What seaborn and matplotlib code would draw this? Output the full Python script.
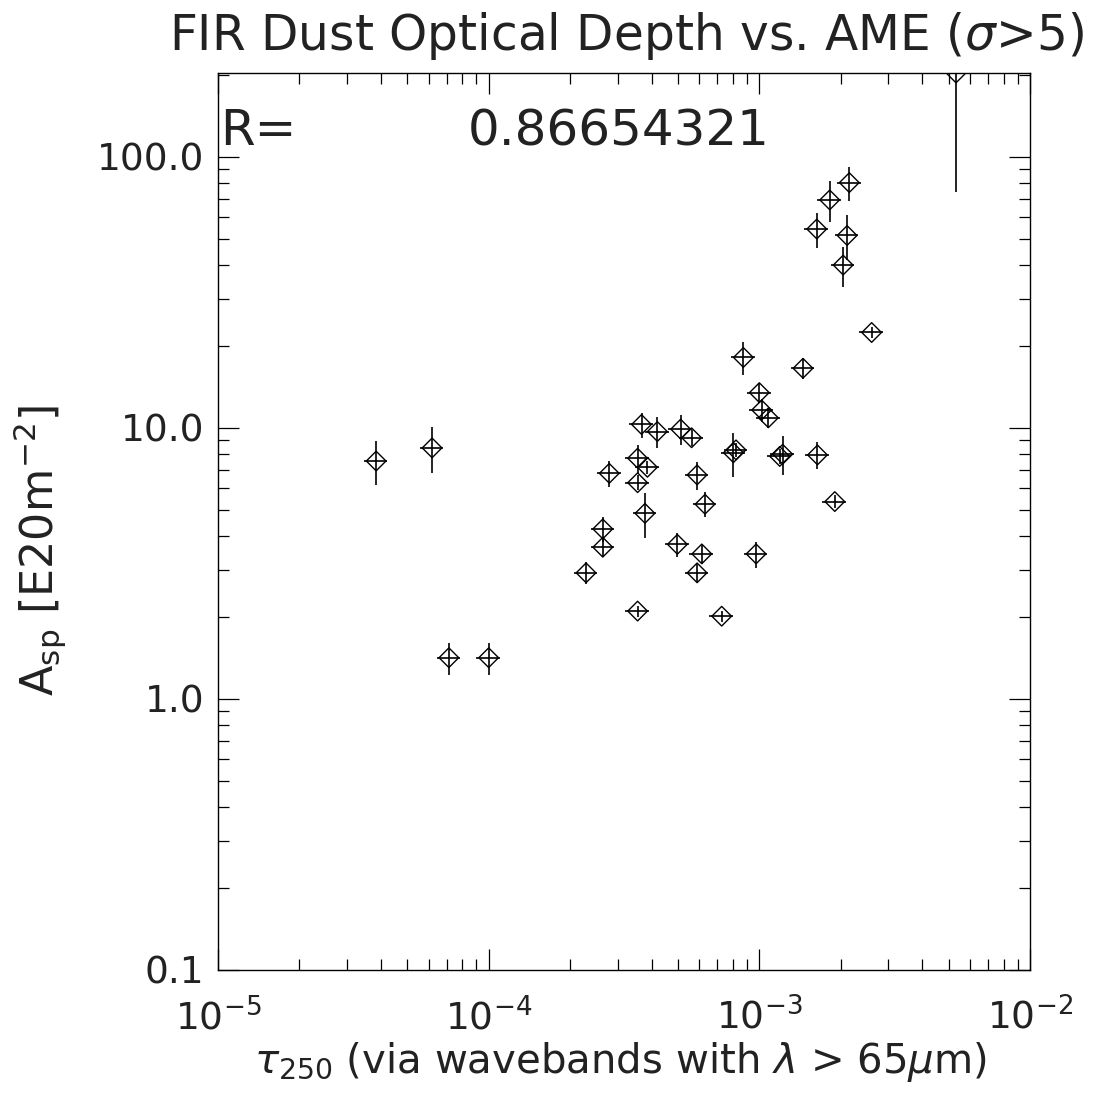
import numpy as np
import pandas as pd
import matplotlib
matplotlib.use("Agg")
import matplotlib.pyplot as plt
import seaborn as sns
from matplotlib.ticker import FixedLocator, LogLocator, NullFormatter

# ---- data ----
tau250 = [3.84e-5, 6.18e-5, 7.13e-5, 1.00e-4,
          3.67e-4, 4.20e-4, 5.12e-4, 5.62e-4, 8.02e-4, 8.20e-4, 1.19e-3, 1.22e-3,
          3.55e-4, 3.86e-4, 2.79e-4, 3.55e-4, 5.89e-4, 6.30e-4, 3.78e-4, 2.64e-4,
          2.64e-4, 4.98e-4, 6.13e-4, 5.89e-4, 9.73e-4, 2.29e-4, 3.55e-4, 7.26e-4,
          8.73e-4, 1.45e-3, 1.00e-3, 1.02e-3, 1.08e-3, 1.64e-3, 1.90e-3,
          2.15e-3, 1.82e-3, 1.63e-3, 2.11e-3, 2.04e-3, 2.60e-3, 5.33e-3]
tau250_err = [3.8e-6, 6.2e-6, 7.1e-6, 1.0e-5,
              3.7e-5, 4.2e-5, 5.1e-5, 5.6e-5, 8.0e-5, 8.2e-5, 1.19e-4, 1.22e-4,
              3.6e-5, 3.9e-5, 2.8e-5, 3.6e-5, 5.9e-5, 6.3e-5, 3.8e-5, 2.6e-5,
              2.6e-5, 5.0e-5, 6.1e-5, 5.9e-5, 9.7e-5, 2.3e-5, 3.6e-5, 7.3e-5,
              8.7e-5, 1.45e-4, 1.0e-4, 1.02e-4, 1.08e-4, 1.64e-4, 1.9e-4,
              2.15e-4, 1.82e-4, 1.63e-4, 2.11e-4, 2.04e-4, 2.6e-4, 5.3e-4]
a_sp = [7.55, 8.44, 1.42, 1.42,
        10.3, 9.7, 9.9, 9.2, 8.1, 8.3, 7.85, 8.0,
        7.73, 7.16, 6.8, 6.28, 6.71, 5.23, 4.84, 4.24,
        3.63, 3.72, 3.43, 2.92, 3.43, 2.92, 2.11, 2.02,
        18.2, 16.6, 13.5, 11.65, 10.9, 7.95, 5.35,
        80.4, 69.4, 54.2, 51.3, 39.9, 22.5, 204.0]
a_sp_err = [1.4, 1.6, 0.19, 0.19,
            1.1, 1.3, 1.25, 0.6, 1.5, 0.5, 0.5, 1.3,
            0.95, 0.4, 0.75, 0.4, 0.8, 0.55, 0.9, 0.45,
            0.3, 0.38, 0.27, 0.22, 0.38, 0.27, 0.1, 0.1,
            2.5, 1.5, 1.1, 1.1, 0.9, 0.9, 0.3,
            11.7, 12.0, 8.0, 9.5, 6.8, 1.0, 130.0]

x_ticks = [1e-5, 1e-4, 1e-3, 1e-2]
x_ticklabels = [r"$10^{-5}$", r"$10^{-4}$", r"$10^{-3}$", r"$10^{-2}$"]
y_ticks = [0.1, 1.0, 10.0, 100.0]
y_ticklabels = ["0.1", "1.0", "10.0", "100.0"]
corr_text = "0.86654321"

df = pd.DataFrame({"tau": tau250, "asp": a_sp})

sns.set_style("white")
plt.rcParams["font.family"] = ["DejaVu Sans"]
plt.rcParams["mathtext.fontset"] = "dejavusans"

W, H = 1117, 1097
fig = plt.figure(figsize=(W / 100, H / 100), dpi=100)
ax = fig.add_axes([218 / W, 1 - 970 / H, (1030 - 218) / W, (970 - 73) / H])

ax.errorbar(tau250, a_sp, xerr=tau250_err, yerr=a_sp_err, fmt="none",
            ecolor="black", elinewidth=1.2, capsize=0, zorder=2)
sns.scatterplot(data=df, x="tau", y="asp", ax=ax, marker="D", s=100,
                facecolor="none", edgecolor="black", linewidth=1.0, zorder=3,
                legend=False)

ax.set_xscale("log")
ax.set_yscale("log")
ax.set_xlim(1e-5, 1e-2)
ax.set_ylim(0.1, 204)

ax.xaxis.set_major_locator(FixedLocator(x_ticks))
ax.set_xticklabels(x_ticklabels)
ax.yaxis.set_major_locator(FixedLocator(y_ticks))
ax.set_yticklabels(y_ticklabels)
ax.xaxis.set_minor_locator(LogLocator(base=10, subs=np.arange(2, 10)))
ax.yaxis.set_minor_locator(LogLocator(base=10, subs=np.arange(2, 10)))
ax.xaxis.set_minor_formatter(NullFormatter())
ax.yaxis.set_minor_formatter(NullFormatter())

for s in ax.spines.values():
    s.set_color("black")
    s.set_linewidth(1.0)

ax.tick_params(axis="both", which="major", direction="in", length=15,
               width=0.9, color="black", top=True, right=True, bottom=True,
               left=True, labelsize=27, labelcolor="#222222")
ax.tick_params(axis="both", which="minor", direction="in", length=8,
               width=0.9, color="black", top=True, right=True, bottom=True,
               left=True)
ax.tick_params(axis="x", which="major", pad=20)
ax.tick_params(axis="y", which="major", pad=10)

ax.set_xlabel(r"$\tau_{250}$ (via wavebands with $\lambda$ > 65$\mu$m)",
              fontsize=29, color="#222222")
ax.xaxis.label.set_va("center")
ax.xaxis.set_label_coords(0.496, -0.103)
ax.set_ylabel(r"A$_{\rm sp}$ [E20m$^{-2}$]", fontsize=32, color="#222222")
ax.yaxis.label.set_va("center")
ax.yaxis.set_label_coords(-0.219, 0.468)

fig.text(627 / W, 1 - 36 / H, r"FIR Dust Optical Depth vs. AME ($\sigma$>5)",
         ha="center", va="center", fontsize=35, color="#222222")
ax.text(0.003, 0.935, "R=", transform=ax.transAxes, ha="left", va="center",
        fontsize=36, color="#222222")
ax.text(0.308, 0.935, corr_text, transform=ax.transAxes, ha="left",
        va="center", fontsize=36, color="#222222")

fig.savefig("out.png", dpi=100, facecolor="white")
